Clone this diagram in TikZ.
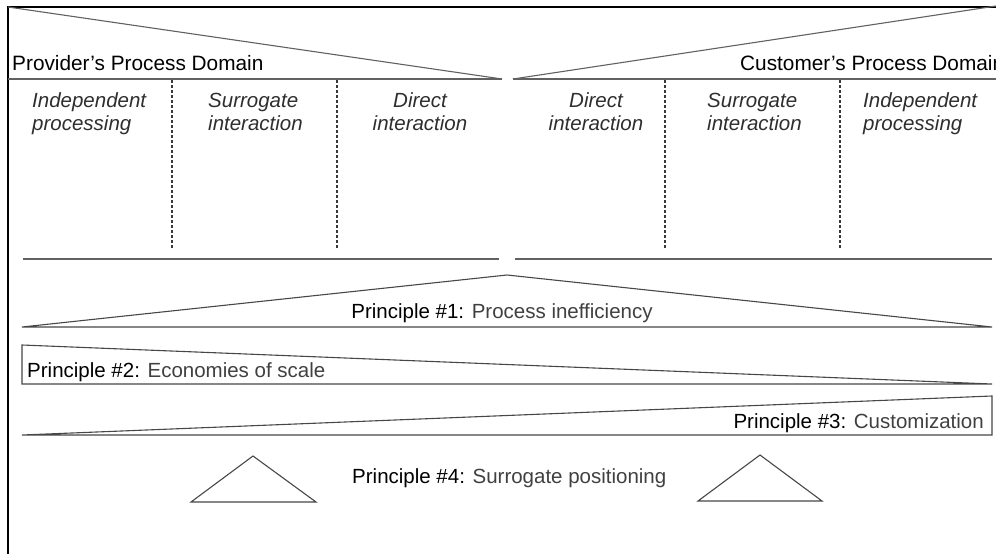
\documentclass[tikz,border=0pt]{standalone}
\usepackage{fontspec}
\setmainfont{Liberation Sans}
\begin{document}
\begin{tikzpicture}[x=1pt,y=-1pt,
  frame/.style={line width=1.4pt, draw=black},
  rule/.style={line width=1.1pt, draw=black!62},
  outline/.style={line width=1.1pt, draw=black!72, line join=miter},
  divider/.style={line width=1.2pt, draw=black!78, dash pattern=on 3pt off 2pt},
  head/.style={font=\fontsize{20.8}{24}\selectfont, inner sep=0pt, text=black},
  col/.style={font=\fontsize{20.5}{23}\selectfont\itshape, inner sep=0pt, text=black!82},
  prin/.style={font=\fontsize{20.5}{24}\selectfont, inner sep=0pt, text=black!75},
]
\newcommand{\plabel}[1]{\textcolor{black}{#1}}
\useasboundingbox (0,0) rectangle (996,554);
\clip (0,0) rectangle (996,554);

% outer frame: left edge and top edge
\coordinate (tl) at (8,7);
\coordinate (tr) at (996,7);
\coordinate (bl) at (8,554);
\draw[frame] (bl) -- (tl) -- (tr);

% provider wedge
\coordinate (pL) at (8,79);
\coordinate (pM) at (502,79);
\draw[rule] (tl) -- (pM);
\draw[rule] (pL) -- (pM);

% customer wedge
\coordinate (cM) at (513,79);
\coordinate (cR) at (996,79);
\coordinate (cT) at (996,6);
\draw[rule] (cM) -- (cT);
\draw[rule] (cM) -- (cR);

% domain headings (the customer heading runs past the right edge)
\node[head, anchor=base west] (prov) at (12,70) {Provider’s Process Domain};
\node[head, anchor=base west] (cust) at (740,70) {Customer’s Process Domain};

% column dividers
\draw[divider] (172,80) -- (172,248);
\draw[divider] (337,80) -- (337,248);
\draw[divider] (665,80) -- (665,248);
\draw[divider] (840,80) -- (840,248);

% column labels
\node[col, align=left,   anchor=north west] (pind) at (32,92)  {Independent\\processing};
\node[col, align=left,   anchor=north west] (psur) at (208,93) {Surrogate\\interaction};
\node[col, align=center, anchor=north]      (pdir) at (420,92) {Direct\\interaction};
\node[col, align=center, anchor=north]      (cdir) at (596,92) {Direct\\interaction};
\node[col, align=left,   anchor=north west] (csur) at (707,93) {Surrogate\\interaction};
\node[col, align=left,   anchor=north west] (cind) at (863,92) {Independent\\processing};

% lower rules
\draw[rule] (23,259) -- (499,259);
\draw[rule] (515,259) -- (992,259);

% principle 1: process inefficiency
\draw[outline] (22,327) -- (507,275) -- (992,327) -- cycle;
\node[prin, anchor=base] (p1) at (502,318) {\plabel{Principle \#1:} Process inefficiency};

% principle 2: economies of scale
\draw[outline] (22,345) -- (992,384) -- (22,384) -- cycle;
\node[prin, anchor=base west] (p2) at (27,377) {\plabel{Principle \#2:} Economies of scale};

% principle 3: customization
\draw[outline] (22,435) -- (992,435) -- (992,396) -- cycle;
\node[prin, anchor=base east] (p3) at (984,428) {\plabel{Principle \#3:} Customization};

% principle 4: surrogate positioning
\draw[outline] (191,502) -- (253,456) -- (316,502) -- cycle;
\draw[outline] (698,501) -- (760,455) -- (822,501) -- cycle;
\node[prin, anchor=base west] (p4) at (352,483) {\plabel{Principle \#4:} Surrogate positioning};
\end{tikzpicture}
\end{document}
